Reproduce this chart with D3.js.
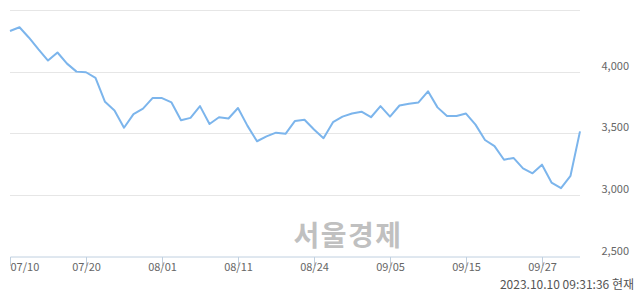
<!DOCTYPE html>
<html>
<head>
<meta charset="utf-8">
<script src="https://cdn.jsdelivr.net/npm/d3@7"></script>
<style>
  body { margin: 0; background: #fff; }
  svg { display: block; font-family: "Noto Sans CJK KR", "DejaVu Sans", sans-serif; }
</style>
</head>
<body>
<svg></svg>
<script>
var screen = {width: 640, height: 294}
var margins = {top: 10, right: 60, bottom: 37, left: 10}

// trading days shown on the chart
var dates = ["07/10","07/11","07/12","07/13","07/14","07/17","07/18","07/19","07/20","07/21",
  "07/24","07/25","07/26","07/27","07/28","07/31","08/01","08/02","08/03","08/04",
  "08/07","08/08","08/09","08/10","08/11","08/14","08/16","08/17","08/18","08/21",
  "08/22","08/23","08/24","08/25","08/28","08/29","08/30","08/31","09/01","09/04",
  "09/05","09/06","09/07","09/08","09/11","09/12","09/13","09/14","09/15","09/18",
  "09/19","09/20","09/21","09/22","09/25","09/26","09/27","10/04","10/05","10/06","10/10"]

var prices = [4330, 4360, 4275, 4180, 4090, 4155, 4065, 4000, 3995, 3950,
  3755, 3685, 3545, 3655, 3700, 3785, 3785, 3750, 3605, 3625,
  3720, 3575, 3630, 3620, 3705, 3560, 3435, 3475, 3505, 3495,
  3600, 3610, 3530, 3460, 3590, 3635, 3660, 3675, 3630, 3720,
  3635, 3725, 3740, 3750, 3840, 3710, 3640, 3640, 3660, 3570,
  3445, 3395, 3285, 3300, 3215, 3175, 3245, 3100, 3055, 3155, 3515]

var tickDates = ["07/10","07/20","08/01","08/11","08/24","09/05","09/15","09/27"]
var yTicks = [2500, 3000, 3500, 4000, 4500]
var yLabels = [2500, 3000, 3500, 4000]
var stamp = "2023.10.10 09:31:36 현재"
var watermark = "서울경제"

var svg = d3.select("svg")
    .attr("width", screen.width)
    .attr("height", screen.height)

var width = 580 - margins.left
var height = 256.5 - margins.top

var xScale = d3.scalePoint()
    .domain(dates)
    .range([0, width])

var yScale = d3.scaleLinear()
    .domain([2500, 4500])
    .range([height, 0])

var graph = svg.append("g")
    .attr("transform", "translate(" + margins.left + "," + margins.top + ")")

// gridlines
graph.append("g")
    .selectAll("line")
    .data(yTicks.slice(1))
    .enter()
    .append("line")
    .attr("x1", 0)
    .attr("x2", width)
    .attr("y1", function(d){ return Math.round(yScale(d)) + 0.5 })
    .attr("y2", function(d){ return Math.round(yScale(d)) + 0.5 })
    .attr("stroke", "#e6e6e6")
    .attr("stroke-width", 1)

// watermark
graph.append("text")
    .attr("x", 348 - margins.left)
    .attr("y", 246 - margins.top)
    .attr("text-anchor", "middle")
    .attr("font-size", "28px")
    .attr("font-weight", "bold")
    .attr("letter-spacing", "1.5px")
    .attr("fill", "#c0c0c0")
    .text(watermark)

// y labels on the right
graph.append("g")
    .selectAll("text")
    .data(yLabels)
    .enter()
    .append("text")
    .attr("x", 629 - margins.left)
    .attr("y", function(d){ return yScale(d) - 2 })
    .attr("text-anchor", "end")
    .attr("font-size", "11px")
    .attr("fill", "#666")
    .text(function(d){ return d3.format(",")(d) })

// x axis
var xAxis = d3.axisBottom(xScale)
    .tickValues(tickDates)
    .tickSize(10)
    .tickPadding(2)

var ax = graph.append("g")
    .attr("transform", "translate(0," + (height + 0.5) + ")")
    .call(xAxis)

ax.select(".domain").attr("stroke", "#c0d0e0").attr("d", "M0.5,0H" + width)
ax.selectAll(".tick line").attr("stroke", "#c0d0e0").attr("y1", 0).attr("y2", 9)
ax.selectAll(".tick text")
    .attr("font-size", "11px")
    .attr("font-family", "\"Noto Sans CJK KR\", \"DejaVu Sans\", sans-serif")
    .attr("fill", "#666")
    .attr("dy", "0.2em")
    .attr("text-anchor", function(d, i){ return i == 0 ? "start" : "middle" })

// price line
var line = d3.line()
    .x(function(d, i){ return xScale(dates[i]) })
    .y(function(d){ return yScale(d) })

graph.append("path")
    .datum(prices)
    .attr("d", line)
    .attr("fill", "none")
    .attr("stroke", "#7cb5ec")
    .attr("stroke-width", 2)
    .attr("stroke-linejoin", "round")

// timestamp
svg.append("text")
    .attr("x", 634)
    .attr("y", 289)
    .attr("text-anchor", "end")
    .attr("font-size", "12px")
    .attr("fill", "#555")
    .text(stamp)
</script>
</body>
</html>
